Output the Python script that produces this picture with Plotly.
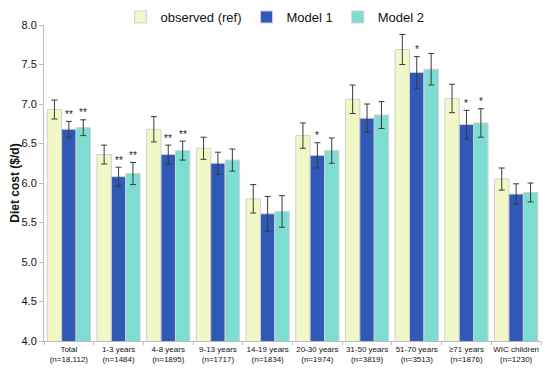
import plotly.graph_objects as go

categories = ["Total<br>(n=18,112)", "1-3 years<br>(n=1484)", "4-8 years<br>(n=1895)",
              "9-13 years<br>(n=1717)", "14-19 years<br>(n=1834)", "20-30 years<br>(n=1974)",
              "31-50 years<br>(n=3819)", "51-70 years<br>(n=3513)", "\u226571 years<br>(n=1876)",
              "WIC children<br>(n=1230)"]

observed = [6.93, 6.36, 6.68, 6.44, 5.80, 6.60, 7.06, 7.69, 7.07, 6.05]
observed_err = [0.12, 0.12, 0.16, 0.14, 0.18, 0.16, 0.18, 0.19, 0.18, 0.14]

model1 = [6.68, 6.08, 6.36, 6.25, 5.61, 6.35, 6.82, 7.40, 6.74, 5.86]
model1_err = [0.10, 0.12, 0.12, 0.14, 0.22, 0.16, 0.18, 0.20, 0.18, 0.13]

model2 = [6.70, 6.12, 6.41, 6.29, 5.64, 6.41, 6.86, 7.44, 6.76, 5.88]
model2_err = [0.10, 0.14, 0.12, 0.14, 0.20, 0.16, 0.17, 0.20, 0.18, 0.12]

sig1 = ["**", "**", "**", "", "", "*", "", "*", "*", ""]
sig2 = ["**", "**", "**", "", "", "", "", "", "*", ""]

series = [
    ("observed (ref)", observed, observed_err, "#F1F7C6"),
    ("Model 1", model1, model1_err, "#2F58B7"),
    ("Model 2", model2, model2_err, "#7DDDD2"),
]

fig = go.Figure()
for name, vals, errs, color in series:
    fig.add_trace(go.Bar(
        name=name, x=categories, y=vals,
        marker=dict(color=color, line=dict(color="#D0D0D0", width=1)),
        error_y=dict(type="data", array=errs, visible=True, color="#3a3a3a",
                     thickness=1, width=3),
    ))

bar_px = 14.4
for i, cat in enumerate(categories):
    for sig, vals, errs, shift in ((sig1, model1, model1_err, 0), (sig2, model2, model2_err, bar_px)):
        if sig[i]:
            fig.add_annotation(x=cat, y=vals[i] + errs[i], text=sig[i], showarrow=False,
                               xshift=shift, yshift=7, font=dict(size=10, color="#222"))

fig.update_layout(
    width=542, height=361,
    margin=dict(l=36, r=9, t=17, b=28, autoexpand=False),
    paper_bgcolor="white", plot_bgcolor="white",
    font=dict(family="Liberation Sans, Arial, sans-serif", color="#111"),
    barmode="group", bargap=0.13, bargroupgap=0,
    legend=dict(orientation="h", x=0.465, xanchor="center", y=0.975, yanchor="middle",
                yref="container", font=dict(size=13), itemwidth=30,
                traceorder="normal", bgcolor="rgba(0,0,0,0)"),
    showlegend=True,
)
fig.update_xaxes(showline=True, linecolor="#BBBBBB", linewidth=1, ticks="outside",
                 tickson="boundaries", ticklen=3, tickcolor="#BBBBBB", tickangle=0,
                 tickfont=dict(size=8), showgrid=False, automargin=False)
fig.update_yaxes(range=[4, 8], dtick=0.5, tickformat=".1f", showline=True,
                 linecolor="#BBBBBB", linewidth=1, ticks="outside", ticklen=4,
                 tickcolor="#BBBBBB", tickfont=dict(size=11), showgrid=False,
                 zeroline=False, automargin=False,
                 title=dict(text="<b>Diet cost ($/d)</b>", font=dict(size=12), standoff=12))

fig.write_html("out.html")
